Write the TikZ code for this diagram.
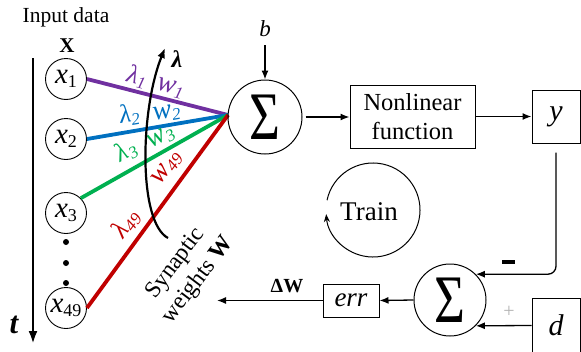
\documentclass[tikz,border=0pt]{standalone}
\usepackage{fontspec}
\usepackage{graphicx}
\setmainfont{Liberation Serif}
\usetikzlibrary{arrows.meta,calc}
\newcommand\lowsub[1]{\raisebox{-4pt}{\fontsize{18}{18}\selectfont #1}}
\newcommand\lblsub[1]{\raisebox{-3.5pt}{\fontsize{17}{17}\selectfont #1}}
\newcommand\bigsig{\scalebox{0.78}[1]{\fontsize{68}{68}\selectfont Σ}}
\definecolor{cpurple}{HTML}{7030A0}
\definecolor{cblue}{HTML}{0070C0}
\definecolor{cgreen}{HTML}{00B050}
\definecolor{cred}{HTML}{C00000}
\begin{document}
\begin{tikzpicture}[x=1pt,y=-1pt,
  every node/.style={inner sep=0pt},
  conn/.style={line width=1.3pt,-{Latex[length=9pt,width=7pt]}},
  inp/.style={circle,draw,line width=0.9pt,minimum size=41pt,font=\fontsize{29}{29}\selectfont},
  sumnode/.style={circle,draw,line width=1pt,minimum size=74pt},
  blk/.style={draw,line width=1pt},
  wline/.style={line width=3.8pt},
  lbl/.style={sloped,font=\fontsize{26}{26}\selectfont\itshape},
  wlbl/.style={sloped,font=\fontsize{28}{28}\selectfont\itshape},
  txt/.style={font=\fontsize{24.5}{29}\selectfont}
]
\clip (0,0) rectangle (581,351);

% inputs
\node[font=\fontsize{21.5}{21.5}\selectfont] (title) at (66,17) {Input data};
\node[font=\fontsize{21}{21}\selectfont\bfseries] (X) at (67,46) {X};
\coordinate (ttop) at (33,58);
\coordinate (tbot) at (33,344);
\draw[line width=2.6pt,-{Latex[length=13pt,width=9pt]}] (ttop) -- (tbot);
\node[font=\fontsize{31}{31}\selectfont\bfseries\itshape] (t) at (14,325) {t};

\node[inp] (x1) at (66,79) {\textit{x}\lowsub{1}};
\node[inp] (x2) at (66,139) {\textit{x}\lowsub{2}};
\node[inp] (x3) at (66,213) {\textit{x}\lowsub{3}};
\node[inp] (x49) at (66,308) {\textit{x}\lowsub{49}};
\node[circle,fill,minimum size=6pt] (dot1) at (66,242) {};
\node[circle,fill,minimum size=6pt] (dot2) at (66,263) {};
\node[circle,fill,minimum size=6pt] (dot3) at (66,283) {};

% weighted lines
\coordinate (cv) at (228,115);
\draw[wline,cpurple] (x1.east) -- (cv)
  node[lbl,text=cpurple,pos=0.33,above=1.5pt] (l1) {λ\lblsub{1}}
  node[wlbl,text=cpurple,pos=0.57,above=1.5pt] (w1) {w\lblsub{1}};
\draw[wline,cblue] (x2.east) -- (cv)
  node[lbl,text=cblue,pos=0.32,above=4pt] (l2) {λ\lblsub{2}}
  node[wlbl,text=cblue,pos=0.58,above=1.5pt] (w2) {w\lblsub{2}};
\draw[wline,cgreen] (x3.north east) -- (cv)
  node[lbl,text=cgreen,pos=0.37,above=6pt] (l3) {λ\lblsub{3}}
  node[wlbl,text=cgreen,pos=0.59,above=3pt] (w3) {w\lblsub{3}};
\draw[wline,cred] (x49.east) -- (cv)
  node[lbl,text=cred,pos=0.38,above=5.5pt] (l49) {λ\lblsub{49}}
  node[wlbl,text=cred,pos=0.67,above=7.5pt] (w49) {w\lblsub{49}};

% lambda arrow
\coordinate (lb) at (168,238);
\coordinate (lt) at (165,48);
\draw[line width=2.2pt,-{Latex[length=10pt,width=8pt]}] (lb) .. controls (138,222) and (140,110) .. (lt);
\node[font=\fontsize{24}{24}\selectfont\bfseries\itshape] (lam) at (177,59) {λ};

\node[font=\fontsize{23.5}{28}\selectfont,rotate=53,align=center] (syn) at (187,272) {Synaptic\\weights \textbf{W}};

% forward path
\node[font=\fontsize{23}{23}\selectfont\itshape] (b) at (265,29) {b};
\node[sumnode] (s1) at (265,117) {\bigsig};
\draw[conn,shorten <=8pt] (b) -- (s1);
\node[blk,txt,minimum width=125pt,minimum height=63pt,align=center] (nl) at (412.5,116.5) {Nonlinear\\function};
\node[blk,font=\fontsize{30}{30}\selectfont\itshape,minimum width=48pt,minimum height=53pt] (ybox) at (556,116.5) {y};
\draw[conn,shorten <=3pt] (s1.east) -- (s1.east -| nl.west);
\draw[conn] (nl.east) -- (ybox.west);

% train
\coordinate (tc) at (373,210);
\node[font=\fontsize{27}{27}\selectfont] (train) at (369,212) {Train};
\draw[line width=1pt,-{Stealth[length=8pt,width=6pt]}] ($(tc)+(192:47)$) arc[start angle=192,end angle=535,radius=47];

% error path
\node[sumnode,minimum size=72pt] (s2) at (450,300) {\bigsig};
\draw[conn,rounded corners=8pt] ($(ybox.south)+(0,9)$) |- (s2.45);
\node[fill,minimum width=13pt,minimum height=3.5pt] (minus) at (508,262) {};
\node[blk,font=\fontsize{30}{30}\selectfont\itshape,minimum width=48pt,minimum height=55pt] (dbox) at (556,325.5) {d};
\draw[conn] (dbox.west) -- (s2.-45);
\node[text=gray!60,font=\fontsize{20}{20}\selectfont] (plus) at (509,312) {+};
\node[blk,font=\fontsize{27}{27}\selectfont\itshape,minimum width=56pt,minimum height=33pt] (err) at (351,300.5) {err};
\draw[conn] (s2.west) -- (err.east);
\coordinate (dwend) at (217,300.5);
\draw[conn] (err.west) -- (dwend);
\node[font=\fontsize{20}{20}\selectfont\bfseries] (dw) at (287,286) {ΔW};
\end{tikzpicture}
\end{document}
